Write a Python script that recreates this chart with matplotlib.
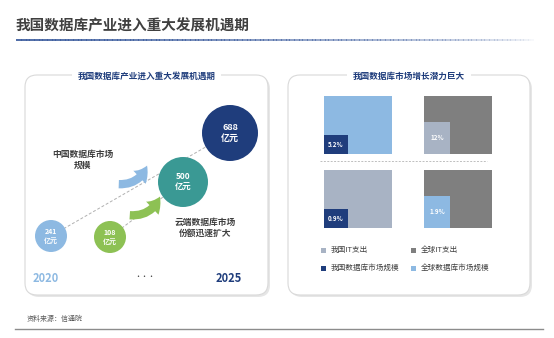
import numpy as np
import matplotlib.pyplot as plt
from matplotlib.patches import Circle, Rectangle, FancyBboxPatch, FancyArrowPatch

plt.rcParams['font.family'] = ['Noto Sans CJK SC', 'DejaVu Sans']

# data
main_title = '我国数据库产业进入重大发展机遇期'
left_title = '我国数据库产业进入重大发展机遇期'
right_title = '我国数据库市场增长潜力巨大'
market_vals = [241, 108, 500, 688]          # 亿元
market_cols = ['#8db9e2', '#8dc154', '#3a9994', '#1f3d7c']
years = ['2020', '2025']
share_labels = ['5.2%', '12%', '0.9%', '1.9%']
legend_labels = ['我国IT支出', '全球IT支出', '我国数据库市场规模', '全球数据库市场规模']
legend_cols = ['#a8b3c4', '#7f7f7f', '#1f3d7c', '#8db9e2']
source = '资料来源：信通院'

fig = plt.figure(figsize=(5.54, 3.38), dpi=100)
ax = fig.add_axes([0, 0, 1, 1])
ax.set_xlim(0, 554)
ax.set_ylim(338, 0)
ax.axis('off')

# header
ax.text(16, 26, main_title, fontsize=10.5, fontweight='bold', color='#404040', va='center')
grad = np.linspace(1, 0, 200)
for i in range(199):
    x0 = 16 + i * (520 / 200)
    ax.plot([x0, x0 + 520 / 200 + 0.5], [40, 40], color='#3f5f9f', alpha=grad[i] ** 0.6, lw=1.3,
            solid_capstyle='butt')
ax.plot([15, 543], [329, 329], color='#8c8c8c', lw=1)
ax.text(27, 319, source, fontsize=5, color='#595959', va='center')

# panels
for (x0, x1), t in [((25, 268), left_title), ((288, 530), right_title)]:
    sh = FancyBboxPatch((x0 + 2, 77), x1 - x0, 220, boxstyle='round,pad=0,rounding_size=12',
                        fc='#e6e6e6', ec='none', zorder=0)
    ax.add_patch(sh)
    p = FancyBboxPatch((x0, 75), x1 - x0, 220, boxstyle='round,pad=0,rounding_size=12',
                       fc='white', ec='#d9d9d9', lw=0.8, zorder=1)
    ax.add_patch(p)
    ax.text((x0 + x1) / 2, 76, t, fontsize=6.2, fontweight='bold', color='#1f3d7c',
            ha='center', va='center', zorder=3,
            bbox=dict(fc='white', ec='none', pad=4))

# left panel: dashed trend lines
ax.plot([51, 230], [236, 133], ls=(0, (3, 2)), color='#b0b0b0', lw=0.7, zorder=2)
ax.plot([110, 183], [237, 182], ls=(0, (3, 2)), color='#b0b0b0', lw=0.7, zorder=2)

centers = [(51, 236), (110, 237), (183, 182), (230, 133)]
radii = [16, 16, 25, 28]
fsz = [5, 5, 6, 6.5]
for (cx, cy), r, v, c, f in zip(centers, radii, market_vals, market_cols, fsz):
    ax.add_patch(Circle((cx, cy), r, fc=c, ec='none', zorder=3))
    ax.text(cx, cy, f'{v}\n亿元', fontsize=f, fontweight='bold', color='white',
            ha='center', va='center', linespacing=1.2, zorder=4)

# curved arrows (swoosh rising to the upper right, bulging down-right)
for (p0, p1, c) in [((116, 184), (148, 163), '#8db9e2'), ((127, 215), (161, 194), '#8dc154')]:
    a = FancyArrowPatch(p0, p1, connectionstyle='arc3,rad=0.4',
                        arrowstyle='simple,head_width=13,head_length=10,tail_width=6',
                        fc=c, ec='none', zorder=3, mutation_scale=1)
    ax.add_patch(a)

ax.text(83, 160, '中国数据库市场\n规模', fontsize=6.3, fontweight='bold', color='#404040',
        ha='center', va='center', linespacing=1.3)
ax.text(205, 228, '云端数据库市场\n份额迅速扩大', fontsize=6.3, fontweight='bold', color='#404040',
        ha='center', va='center', linespacing=1.3)
ax.text(46, 279, years[0], fontsize=8, fontweight='bold', color='#8db9e2', ha='center', va='center')
ax.text(229, 279, years[1], fontsize=8, fontweight='bold', color='#1f3d7c', ha='center', va='center')
ax.text(145, 277, '•••', fontsize=5, color='#404040', ha='center', va='center')

# right panel: nested squares
outer = [(324, 96, '#8db9e2'), (424, 96, '#7f7f7f'), (324, 170, '#a8b3c4'), (424, 170, '#7f7f7f')]
inner_h = [19, 32, 19, 32]
inner_w = [24, 26, 24, 26]
inner_c = ['#1f3d7c', '#a8b3c4', '#1f3d7c', '#8db9e2']
W, H = 68, 58
for (x, y, c), ih, iw, ic, lab in zip(outer, inner_h, inner_w, inner_c, share_labels):
    ax.add_patch(Rectangle((x, y), W, H, fc=c, ec='none', zorder=2))
    ax.add_patch(Rectangle((x, y + H - ih), iw, ih, fc=ic, ec='none', zorder=3))
    ax.text(x + iw / 2, y + H - ih / 2, lab, fontsize=4.5, fontweight='bold', color='white',
            ha='center', va='center', zorder=4)
ax.plot([320, 487], [161, 161], ls=(0, (2, 1.5)), color='#bfbfbf', lw=0.7, zorder=2)

# legend
leg_pos = [(323, 250), (413, 250), (323, 268), (413, 268)]
for (lx, ly), lab, c in zip(leg_pos, legend_labels, legend_cols):
    ax.add_patch(Rectangle((lx - 2, ly - 2.5), 5, 5, fc=c, ec='none', zorder=3))
    ax.text(lx + 8, ly, lab, fontsize=5.5, color='#404040', va='center', zorder=3)

fig.savefig('out.png', dpi=100)
